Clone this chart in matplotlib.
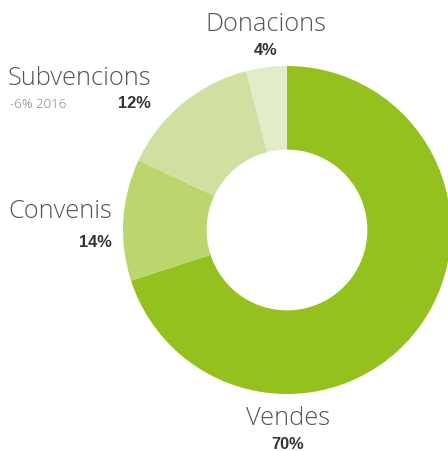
import matplotlib
matplotlib.use("Agg")
from matplotlib import pyplot as plt

# data (wedge sizes as drawn in the chart, labels as printed)
categories = ["Vendes", "Convenis", "Subvencions", "Donacions"]
shares = [70, 12, 14, 4]
colors = ["#95c11f", "#bcd66e", "#cfe0a0", "#e3ecc9"]
pct_labels = ["70%", "14%", "12%", "4%"]
note = "-6% 2016"

plt.rcParams['font.family'] = ['Open Sans', 'DejaVu Sans']

H = 451  # figure height in pixels, text placed from the top


def ty(y):
    return H - y


fig = plt.figure(figsize=(4.48, 4.51), dpi=100)
ax = fig.add_axes([0, 0, 1, 1])

ax.pie(shares, colors=colors, startangle=90, counterclock=False,
       center=(287, ty(230)), radius=164,
       wedgeprops=dict(width=164 * 0.51, linewidth=0))

ax.set_xlim(0, 448)
ax.set_ylim(0, H)
ax.set_aspect('equal')
ax.axis('off')

name_color = "#555555"
pct_color = "#333333"
name_kw = dict(fontsize=18.3, fontweight='light', color=name_color, va='baseline')
pct_kw = dict(fontsize=11.8, fontweight='bold', color=pct_color, va='baseline',
              family=['Liberation Sans', 'DejaVu Sans'])

# Vendes
ax.text(288, ty(425), categories[0], ha='center', **name_kw)
ax.text(288, ty(449), pct_labels[0], ha='center', **pct_kw)
# Convenis
ax.text(8, ty(218), categories[1], ha='left', **name_kw)
ax.text(112, ty(247), pct_labels[1], ha='right', **pct_kw)
# Subvencions
ax.text(8, ty(85), categories[2], ha='left', **name_kw)
ax.text(10, ty(108), note, ha='left', va='baseline', fontsize=9.5,
        fontweight='light', color="#7a7a7a")
ax.text(151, ty(108), pct_labels[2], ha='right', **pct_kw)
# Donacions
ax.text(266, ty(31), categories[3], ha='center', **name_kw)
ax.text(266, ty(55), pct_labels[3], ha='center', **pct_kw)

plt.savefig("out.png", dpi=100)
